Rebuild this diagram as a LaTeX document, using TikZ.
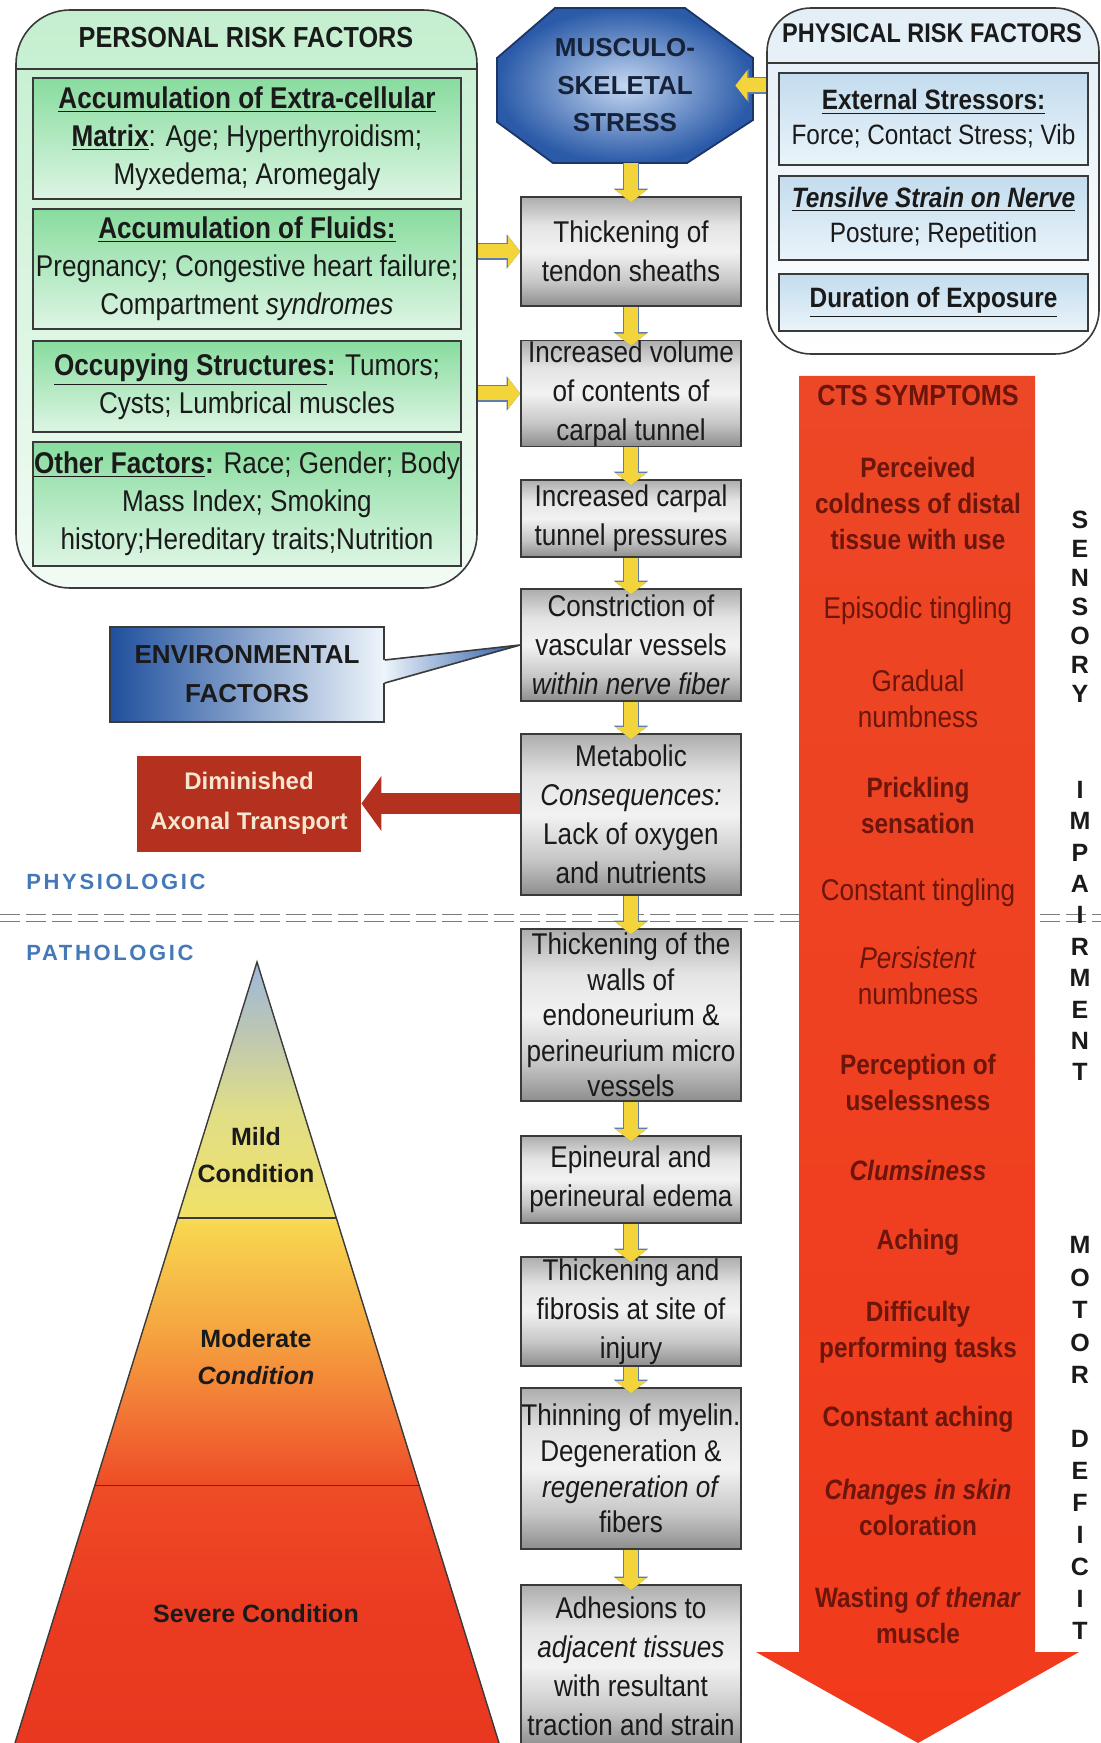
\documentclass[tikz,border=0pt]{standalone}
\usepackage{fontspec}
\setmainfont{Liberation Sans}
\newfontfamily\narrowsf[FakeStretch=0.87]{Liberation Sans}
\newfontfamily\phasesf[LetterSpace=12]{Liberation Sans}
\usepackage{xcolor}
\definecolor{ink}{HTML}{1A1A1A}
\definecolor{framegray}{HTML}{3A3A3A}
\definecolor{perstop}{HTML}{C4EFCF}
\definecolor{persbot}{HTML}{F2FBF4}
\definecolor{grtop}{HTML}{88DC9E}
\definecolor{grbot}{HTML}{DDF5E4}
\definecolor{phystop}{HTML}{E3EEF6}
\definecolor{physbot}{HTML}{FFFFFF}
\definecolor{bltop}{HTML}{C3DCEE}
\definecolor{blbot}{HTML}{EAF4FA}
\definecolor{metalbot}{HTML}{8E8E8E}
\definecolor{metallow}{HTML}{C6C6C6}
\definecolor{metalhi}{HTML}{F2F2F2}
\definecolor{metalmid}{HTML}{E4E4E4}
\definecolor{metaltop}{HTML}{ADADAD}
\definecolor{octin}{HTML}{C4D7F1}
\definecolor{octout}{HTML}{2A5AA8}
\definecolor{octline}{HTML}{1B3566}
\definecolor{octink}{HTML}{16223A}
\definecolor{ayellow}{HTML}{F3D43B}
\definecolor{aedge}{HTML}{5F7EAE}
\definecolor{envdark}{HTML}{1F4F9D}
\definecolor{envlight}{HTML}{EEF5FB}
\definecolor{envtip}{HTML}{2A5AA8}
\definecolor{dimred}{HTML}{B3311E}
\definecolor{dimtext}{HTML}{F6E6D0}
\definecolor{ctstop}{HTML}{EC4726}
\definecolor{ctsbot}{HTML}{F13A1C}
\definecolor{symtext}{HTML}{6B150B}
\definecolor{phaseblue}{HTML}{4478B6}
\definecolor{sepgray}{HTML}{7A7A7A}
\definecolor{pyA}{HTML}{E8381F}
\definecolor{pyB}{HTML}{EB3C22}
\definecolor{pyC}{HTML}{EE4C26}
\definecolor{pyD}{HTML}{F27234}
\definecolor{pyE}{HTML}{F5A540}
\definecolor{pyF}{HTML}{F8D650}
\definecolor{pyG}{HTML}{F0E068}
\definecolor{pyH}{HTML}{E0DE88}
\definecolor{pyI}{HTML}{BCC6B4}
\definecolor{pyJ}{HTML}{9DB8DA}
\usepackage{tikz}
\usetikzlibrary{arrows.meta,positioning,calc}
\pgfdeclareverticalshading{metalshade}{100bp}{color(0bp)=(metalbot); color(25bp)=(metalbot);
  color(36bp)=(metallow); color(50bp)=(metalhi); color(62bp)=(metalmid);
  color(75bp)=(metaltop); color(100bp)=(metaltop)}
\pgfdeclareverticalshading{pyrshade}{100bp}{color(0bp)=(pyA); color(25bp)=(pyA);
  color(34bp)=(pyB); color(41.5bp)=(pyC); color(45.7bp)=(pyD); color(51.4bp)=(pyE);
  color(58.2bp)=(pyF); color(58.8bp)=(pyG); color(65.5bp)=(pyH); color(70.6bp)=(pyI);
  color(75bp)=(pyJ); color(100bp)=(pyJ)}
\newcommand\gfont{\narrowsf\fontsize{15}{19.5}\selectfont}
\newcommand\gtight{\narrowsf\fontsize{15}{17.8}\selectfont}
\newcommand\grfont{\narrowsf\fontsize{15}{19}\selectfont}
\newcommand\blfont{\narrowsf\fontsize{14}{17.5}\selectfont}
\newcommand\symfont{\narrowsf\fontsize{15}{18}\selectfont}
\newcommand\symbfont{\narrowsf\bfseries\fontsize{14}{18}\selectfont}
\tikzset{
  riskframe/.style={draw=framegray,line width=0.8pt,rounded corners=27pt,
                    top color=perstop,bottom color=persbot},
  physframe/.style={draw=framegray,line width=0.8pt,rounded corners=22pt,
                    top color=phystop,bottom color=physbot},
  frameline/.style={draw=framegray,line width=0.8pt},
  hdr/.style     ={font=\narrowsf\bfseries\fontsize{14.5}{16}\selectfont,text=ink,inner sep=0pt},
  grbox/.style   ={draw=framegray,line width=0.8pt,top color=grtop,bottom color=grbot,
                   minimum width=214pt,inner sep=0pt,align=center,font=\grfont,text=ink},
  blbox/.style   ={draw=framegray,line width=0.8pt,top color=bltop,bottom color=blbot,
                   minimum width=154.5pt,inner sep=0pt,align=center,font=\blfont,text=ink},
  gbox/.style    ={draw=framegray,line width=0.8pt,shade,shading=metalshade,
                   minimum width=110pt,inner sep=0pt,align=center,font=\gfont,text=ink},
  octshape/.style={draw=octline,line width=0.9pt,inner color=octin,outer color=octout},
  octtext/.style ={minimum width=128pt,minimum height=77.5pt,inner sep=0pt,align=center,
                   font=\bfseries\fontsize{13}{18.75}\selectfont,text=octink},
  envbox/.style  ={draw=framegray,line width=0.8pt,left color=envdark,right color=envlight,
                   minimum width=137pt,minimum height=47.5pt,inner sep=0pt,align=center,
                   font=\bfseries\fontsize{13}{19.5}\selectfont,text=ink},
  envptr/.style  ={left color=envlight,right color=envtip},
  dimbox/.style  ={fill=dimred,minimum width=112pt,minimum height=48pt,inner sep=0pt,
                   align=center,font=\bfseries\fontsize{12}{19.75}\selectfont,text=dimtext},
  yarrow/.style  ={draw=ayellow,line width=7pt,-{Triangle[length=6pt,width=15pt]},
                   preaction={draw=aedge,line width=8.2pt,-{Triangle[length=6.8pt,width=17pt]}}},
  redarrow/.style={draw=dimred,line width=10.5pt,-{Triangle[length=10pt,width=27pt]}},
  sepline/.style ={draw=sepgray,line width=0.7pt,double=white,double distance=2.8pt,
                   dash pattern=on 10pt off 3pt},
  phase/.style   ={font=\phasesf\bfseries\fontsize{11}{13}\selectfont,text=phaseblue,inner sep=0pt},
  pyrline/.style ={draw=framegray,line width=0.7pt},
  pyrtxt/.style  ={align=center,font=\bfseries\fontsize{12.5}{18.5}\selectfont,text=ink,inner sep=0pt},
  ctsfill/.style ={top color=ctstop,bottom color=ctsbot},
  ctshead/.style ={font=\narrowsf\bfseries\fontsize{14.5}{17}\selectfont,text=symtext,inner sep=0pt},
  sym/.style     ={align=center,font=\symfont,text=symtext,inner sep=0pt},
  symb/.style    ={sym,font=\symbfont},
  vlet/.style    ={align=center,text=ink,inner sep=0pt},
}
\begin{document}
\begin{tikzpicture}[x=0.5pt,y=-0.5pt]
\useasboundingbox (0,0) rectangle (1101,1743);
%---------------- separator physiologic / pathologic
\coordinate (sepl) at (0,918);
\coordinate (sepr) at (1101,918);
\draw[sepline] (sepl) -- (sepr);
%---------------- PERSONAL RISK FACTORS
\node[riskframe,minimum width=230.5pt,minimum height=289pt] (pers) at (246.5,299) {};
\coordinate (pershd) at (0,69);
\draw[frameline] (pers.west |- pershd) -- (pers.east |- pershd);
\node[hdr] (perstitle) at (246,38) {PERSONAL RISK FACTORS};
\node[grbox,minimum height=60.5pt] (ecm) at (247,138.5)
  {\underline{\textbf{Accumulation of Extra-cellular}}\\\underline{\textbf{Matrix}}: Age; Hyperthyroidism;\\Myxedema; Aromegaly};
\node[grbox,minimum height=60pt] (fluid) at (247,269)
  {\underline{\textbf{Accumulation of Fluids:}}\\Pregnancy; Congestive heart failure;\\Compartment \textit{syndromes}};
\node[grbox,minimum height=45.5pt] (occ) at (247,386.5)
  {\underline{\textbf{Occupying Structures}}\textbf{:} Tumors;\\Cysts; Lumbrical muscles};
\node[grbox,minimum height=62pt] (other) at (247,504)
  {\underline{\textbf{Other Factors}}\textbf{:} Race; Gender; Body\\Mass Index; Smoking\\history;Hereditary traits;Nutrition};
%---------------- MUSCULO-SKELETAL STRESS
\path[octshape] (555,8) -- (685,8) -- (753,58) -- (753,120) -- (687,163)
  -- (553,163) -- (497,122) -- (497,58) -- cycle;
\node[octtext] (oct) at (625,85.5) {MUSCULO-\\SKELETAL\\STRESS};
%---------------- PHYSICAL RISK FACTORS
\node[physframe,minimum width=166pt,minimum height=173pt] (phys) at (933,181) {};
\coordinate (physhd) at (0,63);
\draw[frameline] (phys.west |- physhd) -- (phys.east |- physhd);
\node[hdr,font=\narrowsf\bfseries\fontsize{13.5}{15}\selectfont] (phystitle) at (932,33) {PHYSICAL RISK FACTORS};
\node[blbox,minimum height=46pt] (ext) at (933.5,119)
  {\underline{\textbf{External Stressors:}}\\Force; Contact Stress; Vib};
\node[blbox,minimum height=42pt] (tens) at (933.5,218)
  {\underline{\textbf{\textit{Tensilve Strain on Nerve}}}\\Posture; Repetition};
\node[blbox,minimum height=28.5pt] (dur) at (933.5,302.5)
  {\underline{\textbf{Duration of Exposure}}};
%---------------- pathway column
\node[gbox,minimum height=54.5pt] (g1) at (631,251.5) {Thickening of\\tendon sheaths};
\node[gbox,minimum height=52.5pt] (g2) at (631,393.5) {Increased volume\\of contents of\\carpal tunnel};
\node[gbox,minimum height=38.5pt] (g3) at (631,518.5) {Increased carpal\\tunnel pressures};
\node[gbox,minimum height=56pt] (g4) at (631,645) {Constriction of\\vascular vessels\\\textit{within nerve fiber}};
\node[gbox,minimum height=80.5pt] (g5) at (631,814.5) {Metabolic\\\textit{Consequences:}\\Lack of oxygen\\and nutrients};
\node[gbox,minimum height=86pt,font=\gtight] (g6) at (631,1015)
  {Thickening of the\\walls of\\endoneurium \&\\perineurium micro\\vessels};
\node[gbox,minimum height=43.5pt] (g7) at (631,1179.5) {Epineural and\\perineural edema};
\node[gbox,minimum height=54.5pt] (g8) at (631,1311.5) {Thickening and\\fibrosis at site of\\injury};
\node[gbox,minimum height=80.5pt,font=\gtight] (g9) at (631,1468.5)
  {Thinning of myelin.\\Degeneration \&\\\textit{regeneration of}\\fibers};
\node[gbox,minimum height=81pt] (g10) at (631,1666) {Adhesions to\\\textit{adjacent tissues}\\with resultant\\traction and strain};
%---------------- yellow arrows
\draw[yarrow,shorten >=-3pt] (g1.north |- oct.south) -- (g1.north);
\foreach \a/\b in {g1/g2,g2/g3,g3/g4,g4/g5,g5/g6,g6/g7,g7/g8,g8/g9,g9/g10}
  \draw[yarrow,shorten >=-3pt] (\a.south) -- (\b.north);
\draw[yarrow] (g1.west -| pers.east) -- (g1.west);
\draw[yarrow] (g2.west -| pers.east) -- (g2.west);
\draw[yarrow,shorten >=-9pt] (oct.east -| phys.west) -- (oct.east);
%---------------- side boxes
\node[envbox] (env) at (247,674.5) {ENVIRONMENTAL\\FACTORS};
\path[envptr] ([xshift=-0.8pt,yshift=7.25pt]env.east) -- (g4.west)
  -- ([xshift=-0.8pt,yshift=-4.25pt]env.east) -- cycle;
\draw[frameline] ([yshift=7.25pt]env.east) -- (g4.west) -- ([yshift=-4.25pt]env.east);
\node[dimbox] (dim) at (249,803.5) {Diminished\\Axonal Transport};
\draw[redarrow] (g5.west |- dim.east) -- (dim.east);
\node[phase,anchor=west] (physio) at (26,882) {PHYSIOLOGIC};
\node[phase,anchor=west] (patho) at (26,953) {PATHOLOGIC};
%---------------- severity pyramid
\coordinate (apex) at (257,962);
\coordinate (bl) at (15,1743);
\coordinate (br) at (499,1743);
\shade[shading=pyrshade] (apex) -- (br) -- (bl) -- cycle;
\draw[pyrline] (bl) -- (apex) -- (br);
\draw[pyrline] ($(apex)!0.328!(bl)$) -- ($(apex)!0.328!(br)$);
\draw[pyrline] ($(apex)!0.670!(bl)$) -- ($(apex)!0.670!(br)$);
\node[pyrtxt] (mild) at (256,1155.5) {Mild\\Condition};
\node[pyrtxt] (moder) at (256,1357.5) {Moderate\\\textit{Condition}};
\node[pyrtxt] (severe) at (256,1614) {Severe Condition};
%---------------- CTS symptoms arrow
\path[ctsfill] (799,376) -- (1035,376) -- (1035,1652) -- (1079,1652) -- (918,1743)
  -- (756,1652) -- (799,1652) -- cycle;
\node[ctshead] (ctshd) at (918,396) {CTS SYMPTOMS};
\node[symb] (cold) at (918,503) {Perceived\\coldness of distal\\tissue with use};
\node[sym] (epi) at (918,611) {Episodic tingling};
\node[sym] (grad) at (918,698.5) {Gradual\\numbness};
\node[symb] (prick) at (918,805) {Prickling\\sensation};
\node[sym] (ctng) at (918,893) {Constant tingling};
\node[sym] (pnumb) at (918,976) {\textit{Persistent}\\numbness};
\node[symb] (usel) at (918,1082) {Perception of\\uselessness};
\node[symb] (clum) at (918,1170) {\textit{Clumsiness}};
\node[symb] (ache) at (918,1242) {Aching};
\node[symb] (diff) at (918,1332) {Difficulty\\performing tasks};
\node[symb] (cache) at (918,1419) {Constant aching};
\node[symb] (skin) at (918,1507.5) {\textit{Changes in skin}\\coloration};
\node[symb] (waste) at (918,1615) {Wasting \textit{of thenar}\\muscle};
%---------------- side labels
\node[vlet,font=\bfseries\fontsize{12.5}{14.5}\selectfont] (sens) at (1080,607) {S\\E\\N\\S\\O\\R\\Y};
\node[vlet,font=\bfseries\fontsize{12.5}{15.7}\selectfont] (impair) at (1080,931) {I\\M\\P\\A\\I\\R\\M\\E\\N\\T};
\node[vlet,font=\bfseries\fontsize{12.5}{16.25}\selectfont] (motor) at (1080,1310) {M\\O\\T\\O\\R};
\node[vlet,font=\bfseries\fontsize{12.5}{16}\selectfont] (defic) at (1080,1535) {D\\E\\F\\I\\C\\I\\T};
\end{tikzpicture}
\end{document}
